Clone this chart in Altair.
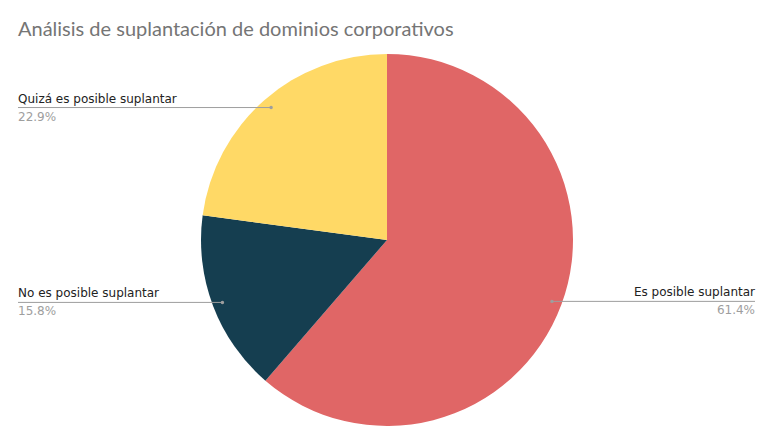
import altair as alt
import pandas as pd

title_text = "Análisis de suplantación de dominios corporativos"
categories = ["Es posible suplantar", "No es posible suplantar", "Quizá es posible suplantar"]
values = [61.4, 15.8, 22.9]
pct_labels = ["61.4%", "15.8%", "22.9%"]
colors = ["#E06666", "#153E50", "#FFD966"]

df = pd.DataFrame({
    "cat": categories,
    "val": values,
    "pct": pct_labels,
    "idx": list(range(len(categories))),
})

W, H = 758, 431
CX, CY, R = 379, 232, 186
RD = 176
LEFT_X, RIGHT_X = 10, 747

base = alt.Chart(df)

pie = base.mark_arc(stroke=None).encode(
    theta=alt.Theta("val:Q", stack=True),
    order=alt.Order("idx:Q"),
    color=alt.Color("cat:N", scale=alt.Scale(domain=categories, range=colors), legend=None),
    x=alt.value(CX),
    y=alt.value(CY),
    radius=alt.value(R),
)

pos = base.transform_window(
    cum="sum(val)", sort=[alt.SortField("idx")], frame=[None, 0]
).transform_joinaggregate(
    total="sum(val)"
).transform_calculate(
    mid=f"(datum.cum - datum.val/2)/datum.total*2*PI",
).transform_calculate(
    px=f"{CX} + {RD}*sin(datum.mid)",
    py=f"{CY} - {RD}*cos(datum.mid)",
).transform_calculate(
    left=f"datum.px < {CX}",
    lx=f"datum.px < {CX} ? {LEFT_X} : {RIGHT_X}",
    ty=f"datum.py - 5",
    py2=f"datum.py + 13",
)

rules = pos.mark_rule(color="#9e9e9e", strokeWidth=1).encode(
    x=alt.X("px:Q", scale=None),
    x2="lx:Q",
    y=alt.Y("py:Q", scale=None),
)

dots = pos.mark_circle(color="#9e9e9e", size=12, opacity=1).encode(
    x=alt.X("px:Q", scale=None),
    y=alt.Y("py:Q", scale=None),
)

name_left = pos.transform_filter("datum.left").mark_text(
    align="left", baseline="alphabetic", font="DejaVu Sans", fontSize=12, color="#222222"
).encode(x=alt.X("lx:Q", scale=None), y=alt.Y("ty:Q", scale=None), text="cat:N")

pct_left = pos.transform_filter("datum.left").mark_text(
    align="left", baseline="alphabetic", font="DejaVu Sans", fontSize=12, color="#9e9e9e"
).encode(x=alt.X("lx:Q", scale=None), y=alt.Y("py2:Q", scale=None), text="pct:N")

name_right = pos.transform_filter("!datum.left").mark_text(
    align="right", baseline="alphabetic", font="DejaVu Sans", fontSize=12, color="#222222"
).encode(x=alt.X("lx:Q", scale=None), y=alt.Y("ty:Q", scale=None), text="cat:N")

pct_right = pos.transform_filter("!datum.left").mark_text(
    align="right", baseline="alphabetic", font="DejaVu Sans", fontSize=12, color="#9e9e9e"
).encode(x=alt.X("lx:Q", scale=None), y=alt.Y("py2:Q", scale=None), text="pct:N")

title = alt.Chart(pd.DataFrame({"t": [title_text]})).mark_text(
    align="left", baseline="alphabetic", font="Lato", fontSize=20, color="#757575"
).encode(x=alt.value(10), y=alt.value(28), text="t:N")

chart = alt.layer(pie, rules, dots, name_left, pct_left, name_right, pct_right, title).properties(
    width=W, height=H, autosize=alt.AutoSizeParams(type="none"), padding=0
).configure_view(stroke=None)

chart.save("out.html", embed_options={"renderer": "svg", "actions": False})
